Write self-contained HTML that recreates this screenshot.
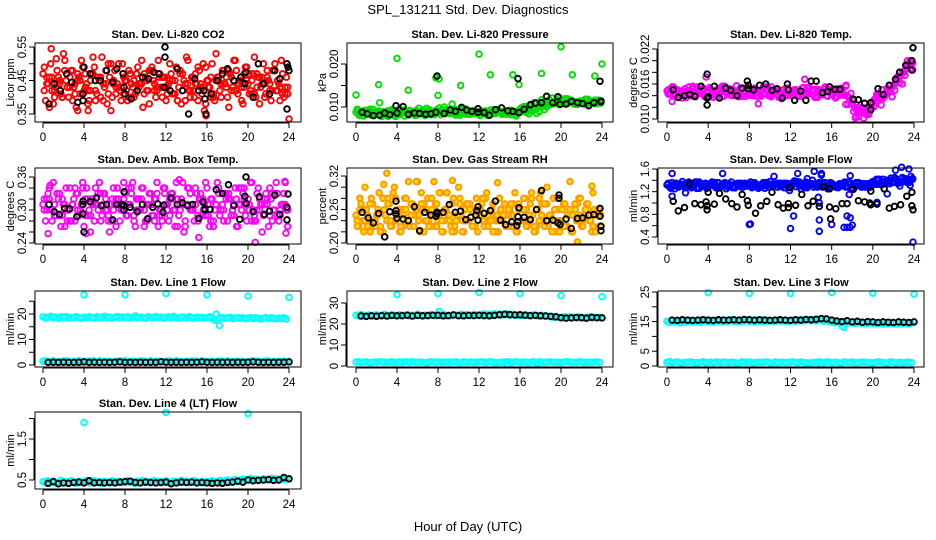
<!DOCTYPE html>
<html><head><meta charset="utf-8">
<style>
html,body{margin:0;padding:0;background:#fff;}
svg{display:block;font-family:"Liberation Sans",Arial,sans-serif;}
</style></head>
<body>
<svg id="chart" width="936" height="540" viewBox="0 0 936 540" xmlns="http://www.w3.org/2000/svg">
<rect x="0" y="0" width="936" height="540" fill="#fff"/>
<text x="468" y="14" font-size="13" text-anchor="middle">SPL_131211  Std. Dev. Diagnostics</text>
<text x="468" y="531" font-size="13" text-anchor="middle">Hour of Day (UTC)</text>
</svg>
<script>
// ---------- data ----------
const xTicks = [0,4,8,12,16,20,24];

const co2Main = [0.47,0.39,0.44,0.50,0.38,0.43,0.46,0.41,0.53,0.45,0.40,0.48,0.43,0.37,0.46,0.51,0.42,0.44,0.39,0.47,0.49,0.41,0.45,0.52,0.43,0.38,0.46,0.40,0.48,0.44,0.42,0.50,
0.45,0.39,0.47,0.43,0.41,0.49,0.44,0.37,0.46,0.42,0.48,0.45,0.40,0.51,0.43,0.46,0.39,0.44,0.47,0.41,0.49,0.43,0.38,0.45,0.52,0.42,0.46,0.40,0.44,0.48,0.41,0.36,
0.45,0.43,0.50,0.39,0.46,0.42,0.48,0.44,0.40,0.47,0.43,0.51,0.41,0.45,0.38,0.49,0.44,0.42,0.47,0.40,0.46,0.43,0.50,0.41,0.45,0.39,0.48,0.42,0.44,0.51,0.40,0.46];
const co2Extra = [0.42,0.46,0.40,0.44,0.48,0.43,0.41,0.45,0.47,0.42,0.39,0.46,0.44,0.50,0.41,0.43,0.45,0.40,0.47,0.44,0.42,0.48,0.43,0.46,0.41,0.45,0.39,0.47,0.44,0.42,0.49,0.43,0.45,0.40,0.46,0.44,0.48,0.42,0.45,0.43,0.47,0.41,0.46,0.44,0.42,0.48,0.43,0.41];
const co2Out = [[0.8,0.545],[3.4,0.36],[4.4,0.36],[15.9,0.345],[24.0,0.335],[1.3,0.515]];
const co2Black = [[0.6,0.38],[1.1,0.44],[1.7,0.42],[2.3,0.47],[2.8,0.445],[3.4,0.385],[3.9,0.39],[3.9,0.41],[4.0,0.49],[4.6,0.47],[5.1,0.45],[5.6,0.45],[6.2,0.48],[6.8,0.445],[7.2,0.485],[7.8,0.47],[7.9,0.43],[8.0,0.41],[8.6,0.395],[9.2,0.42],[9.7,0.46],[10.3,0.455],[10.8,0.475],[11.3,0.47],[11.8,0.43],[11.9,0.55],[11.9,0.52],[12.4,0.42],[13.1,0.485],[13.6,0.42],[14.2,0.35],[14.8,0.455],[15.2,0.42],[15.7,0.42],[15.8,0.395],[15.9,0.35],[16.4,0.41],[17.0,0.45],[17.5,0.47],[18.0,0.485],[18.6,0.45],[19.3,0.46],[19.7,0.44],[19.8,0.475],[20.5,0.40],[21.0,0.50],[21.5,0.44],[22.1,0.41],[22.6,0.48],[23.1,0.455],[23.8,0.50],[23.9,0.49],[24.0,0.48],[23.8,0.365]];

const presMain = [0.0088,0.0082,0.0090,0.0079,0.0086,0.0093,0.0081,0.0087,0.0084,0.0091,0.0078,0.0085,0.0089,0.0082,0.0094,0.0080,
0.0086,0.0083,0.0090,0.0079,0.0087,0.0092,0.0084,0.0081,0.0088,0.0085,0.0093,0.0080,0.0086,0.0089,0.0083,0.0091,
0.0087,0.0082,0.0090,0.0085,0.0088,0.0095,0.0084,0.0081,0.0089,0.0086,0.0092,0.0083,0.0087,0.0090,0.0085,0.0088,
0.0084,0.0091,0.0086,0.0082,0.0089,0.0093,0.0085,0.0087,0.0090,0.0083,0.0088,0.0086,0.0092,0.0084,0.0089,0.0087,
0.0091,0.0094,0.0090,0.0096,0.0093,0.0098,0.0095,0.0100,0.0104,0.0101,0.0107,0.0110,0.0106,0.0112,0.0109,0.0115,
0.0111,0.0108,0.0113,0.0110,0.0116,0.0107,0.0112,0.0109,0.0114,0.0111,0.0106,0.0113,0.0110,0.0115,0.0108,0.0112];
const presExtra = [0.0092,0.0080,0.0087,0.0095,0.0083,0.0089,0.0078,0.0091,0.0086,0.0093,0.0081,0.0088,0.0097,0.0084,0.0090,0.0082,0.0087,0.0094,0.0085,0.0089,0.0083,0.0096,0.0086,0.0091,0.0080,0.0088,0.0093,0.0085,0.0090,0.0087,0.0092,0.0084,0.0098,0.0101,0.0105,0.0110,0.0117,0.0113,0.0121,0.0108,0.0115,0.0119,0.0111,0.0106,0.0114,0.0118,0.0109,0.0116];
const presOut = [[0,0.0128],[2.2,0.0152],[2.3,0.0110],[4.0,0.0213],[5.1,0.0139],[7.8,0.0168],[8.1,0.0165],[8.0,0.0127],[10.2,0.0150],[12.0,0.0223],[13.1,0.0175],[15.3,0.0175],[15.9,0.0152],[18.1,0.0178],[20.0,0.0240],[21.1,0.0175],[23.3,0.0172],[24,0.0200]];
const presBlack = [[0.6,0.0088],[1.1,0.0084],[1.7,0.0080],[2.3,0.0081],[2.8,0.0086],[3.3,0.0082],[3.9,0.0103],[4.0,0.0086],[4.6,0.0101],[5.1,0.0083],[5.7,0.0086],[6.2,0.0085],[6.8,0.0083],[7.3,0.0084],[7.8,0.0088],[7.9,0.0172],[8.6,0.0085],[9.2,0.0093],[9.7,0.0090],[10.3,0.0099],[10.8,0.0093],[11.3,0.0090],[11.9,0.0088],[11.9,0.0096],[12.5,0.0087],[13.0,0.0081],[13.6,0.0094],[14.2,0.0098],[14.8,0.0091],[15.3,0.0090],[15.8,0.0166],[15.9,0.0087],[16.4,0.0095],[17.0,0.0105],[17.5,0.0109],[18.1,0.0110],[18.6,0.0125],[19.2,0.0110],[19.7,0.0124],[19.9,0.0106],[20.5,0.0107],[21.0,0.0113],[21.6,0.0110],[22.1,0.0108],[22.7,0.0103],[23.2,0.0110],[23.8,0.0160],[23.9,0.0112],[23.9,0.0114]];

const tempMain = [0.0148,0.0142,0.0155,0.0139,0.0150,0.0145,0.0136,0.0152,0.0147,0.0141,0.0156,0.0138,0.0149,0.0144,0.0153,0.0140,
0.0146,0.0151,0.0137,0.0148,0.0143,0.0154,0.0139,0.0147,0.0150,0.0142,0.0145,0.0157,0.0138,0.0149,0.0144,0.0152,
0.0141,0.0147,0.0153,0.0139,0.0146,0.0150,0.0143,0.0155,0.0140,0.0148,0.0145,0.0151,0.0137,0.0149,0.0144,0.0153,
0.0142,0.0147,0.0150,0.0139,0.0146,0.0154,0.0141,0.0148,0.0143,0.0151,0.0138,0.0147,0.0145,0.0152,0.0140,0.0148,
0.0144,0.0150,0.0139,0.0146,0.0153,0.0141,
0.0140,0.0132,0.0126,0.0120,0.0116,0.0112,0.0118,0.0110,0.0114,0.0121,
0.0128,0.0135,0.0131,0.0140,0.0137,0.0145,0.0150,0.0147,0.0156,0.0162,0.0168,0.0175,0.0180,0.0186,0.0192,0.0196];
const tempExtra = [0.0143,0.0152,0.0137,0.0148,0.0155,0.0140,0.0146,0.0151,0.0138,0.0149,0.0144,0.0156,0.0141,0.0147,0.0153,0.0139,0.0146,0.0150,0.0142,0.0155,0.0138,0.0148,0.0144,0.0151,0.0140,0.0147,0.0153,0.0143,0.0149,0.0137,0.0145,0.0152,0.0141,0.0148,0.0144,0.0125,0.0113,0.0104,0.0119,0.0108,0.0133,0.0142,0.0138,0.0152,0.0160,0.0172,0.0184,0.0200];
const tempOut = [[0.5,0.0130],[3.8,0.0172],[17.4,0.0158],[18.3,0.0102],[19.1,0.0101],[20.8,0.0124]];
const tempBlack = [[0.6,0.0150],[1.1,0.0137],[1.7,0.0140],[2.2,0.0142],[2.7,0.0139],[3.3,0.0156],[3.9,0.0177],[3.9,0.0124],[3.9,0.0136],[4.0,0.0138],[4.6,0.0156],[5.1,0.0136],[5.7,0.0153],[6.2,0.0149],[6.8,0.0140],[7.3,0.0153],[7.8,0.0165],[7.9,0.0152],[7.9,0.0158],[8.4,0.0150],[9.0,0.0158],[9.6,0.0160],[10.2,0.0149],[10.7,0.0152],[11.2,0.0136],[11.7,0.0160],[11.8,0.0150],[12.4,0.0132],[13.0,0.0148],[13.5,0.0132],[14.0,0.0165],[14.5,0.0165],[15.1,0.0145],[15.6,0.0147],[15.8,0.0155],[16.3,0.0151],[16.8,0.0151],[18.1,0.0134],[18.6,0.0133],[19.2,0.0127],[19.8,0.0116],[19.8,0.0128],[20.5,0.0152],[21.0,0.0142],[21.6,0.0158],[22.2,0.0168],[22.6,0.0180],[23.2,0.0192],[23.8,0.0200],[23.8,0.0184],[23.9,0.0222]];

const ambMain = [0.31,0.28,0.33,0.30,0.35,0.29,0.32,0.27,0.31,0.34,0.30,0.28,0.32,0.33,0.29,0.31,
0.27,0.34,0.30,0.32,0.28,0.31,0.35,0.29,0.33,0.30,0.26,0.32,0.31,0.34,0.28,0.30,
0.33,0.29,0.31,0.35,0.27,0.32,0.30,0.34,0.28,0.31,0.33,0.29,0.32,0.27,0.30,0.34,
0.31,0.28,0.33,0.30,0.35,0.29,0.32,0.26,0.31,0.34,0.30,0.28,0.33,0.32,0.29,0.31,
0.34,0.27,0.32,0.30,0.35,0.29,0.31,0.33,0.28,0.32,0.30,0.34,0.27,0.31,0.33,0.29,
0.32,0.35,0.30,0.28,0.34,0.31,0.29,0.33,0.27,0.32,0.30,0.35,0.28,0.31,0.33,0.30];
const ambExtra = [0.30,0.32,0.29,0.33,0.31,0.28,0.34,0.30,0.32,0.29,0.31,0.33,0.30,0.28,0.32,0.31,0.29,0.34,0.30,0.32,0.28,0.31,0.33,0.29,0.30,0.32,0.27,0.31,0.34,0.30,0.29,0.32,0.31,0.28,0.33,0.30,0.32,0.29,0.31,0.34,0.30,0.28,0.32,0.31,0.29,0.33,0.30,0.31];
const ambOut = [[0.5,0.257],[0.7,0.345],[4.2,0.257],[13.3,0.355],[15.2,0.250],[20.7,0.241],[23.6,0.352],[23.7,0.258]];
const ambBlack = [[0.6,0.310],[1.1,0.297],[1.6,0.292],[2.1,0.303],[2.6,0.302],[3.3,0.288],[3.9,0.316],[3.9,0.310],[3.9,0.293],[4.0,0.260],[4.6,0.315],[5.2,0.322],[5.7,0.308],[6.2,0.310],[6.8,0.282],[7.2,0.310],[7.7,0.310],[7.9,0.308],[7.9,0.333],[7.9,0.300],[8.5,0.305],[9.2,0.297],[9.7,0.310],[10.2,0.284],[10.7,0.305],[11.2,0.311],[11.7,0.296],[11.8,0.309],[12.5,0.322],[13.1,0.310],[13.6,0.313],[14.1,0.308],[14.6,0.310],[15.2,0.285],[15.6,0.315],[15.8,0.300],[15.8,0.302],[16.3,0.301],[16.9,0.337],[17.5,0.330],[18.1,0.346],[18.6,0.308],[19.2,0.283],[19.7,0.325],[19.8,0.312],[19.8,0.360],[20.5,0.297],[21.1,0.324],[21.6,0.292],[22.1,0.298],[22.6,0.327],[23.1,0.292],[23.8,0.305],[23.8,0.282],[23.9,0.329]];

const rhMain = [0.25,0.23,0.27,0.22,0.26,0.24,0.28,0.23,0.25,0.29,0.22,0.26,0.24,0.27,0.23,0.30,
0.25,0.22,0.26,0.28,0.24,0.23,0.27,0.25,0.31,0.22,0.26,0.24,0.28,0.23,0.25,0.27,
0.24,0.29,0.22,0.26,0.25,0.23,0.28,0.24,0.30,0.25,0.22,0.27,0.24,0.26,0.23,0.28,
0.25,0.27,0.23,0.29,0.24,0.26,0.22,0.25,0.28,0.24,0.27,0.23,0.26,0.25,0.29,0.22,
0.26,0.24,0.28,0.23,0.27,0.25,0.22,0.26,0.29,0.24,0.27,0.23,0.25,0.28,0.22,0.26,
0.24,0.27,0.23,0.25,0.22,0.26,0.24,0.28,0.23,0.25,0.27,0.24,0.22,0.26,0.25,0.23];
const rhExtra = [0.24,0.26,0.23,0.27,0.25,0.22,0.28,0.24,0.26,0.23,0.31,0.25,0.24,0.27,0.23,0.26,0.29,0.24,0.25,0.22,0.27,0.24,0.26,0.23,0.25,0.28,0.24,0.22,0.26,0.25,0.27,0.23,0.24,0.26,0.28,0.23,0.25,0.27,0.22,0.24,0.26,0.23,0.25,0.27,0.24,0.26,0.23,0.25];
const rhOut = [[3.0,0.325],[2.7,0.305],[7.6,0.310],[9.4,0.312],[13.8,0.308],[21.6,0.202],[23.0,0.302]];
const rhBlack = [[0.6,0.255],[1.2,0.245],[1.7,0.236],[2.2,0.253],[2.8,0.211],[3.3,0.256],[3.9,0.275],[3.9,0.258],[3.9,0.252],[4.0,0.244],[4.6,0.243],[5.1,0.240],[5.7,0.265],[6.2,0.222],[6.7,0.255],[7.3,0.250],[7.8,0.248],[7.9,0.252],[7.9,0.255],[8.5,0.255],[9.1,0.269],[9.7,0.255],[10.2,0.257],[10.7,0.242],[11.2,0.246],[11.7,0.250],[11.8,0.258],[11.9,0.265],[11.9,0.241],[12.5,0.253],[13.1,0.258],[13.6,0.275],[14.1,0.241],[14.6,0.233],[15.2,0.238],[15.7,0.231],[15.8,0.247],[15.8,0.238],[15.9,0.263],[16.4,0.246],[17.0,0.242],[17.6,0.260],[18.1,0.294],[18.6,0.240],[19.2,0.241],[19.7,0.236],[19.8,0.280],[19.8,0.286],[19.9,0.233],[20.5,0.243],[21.0,0.226],[21.6,0.244],[22.1,0.245],[22.7,0.250],[23.2,0.251],[23.8,0.262],[23.8,0.248],[23.9,0.230],[23.9,0.222]];

const flowMain = [1.32,1.28,1.36,1.25,1.33,1.30,1.38,1.27,1.34,1.31,1.29,1.37,1.26,1.33,1.30,1.35,
1.28,1.34,1.31,1.27,1.36,1.30,1.33,1.25,1.32,1.37,1.29,1.34,1.31,1.28,1.35,1.30,
1.33,1.27,1.36,1.31,1.29,1.34,1.26,1.32,1.38,1.30,1.33,1.28,1.35,1.31,1.27,1.34,
1.30,1.36,1.29,1.33,1.25,1.32,1.37,1.30,1.34,1.28,1.31,1.36,1.29,1.33,1.30,1.27,
1.35,1.31,1.28,1.34,1.30,1.37,1.29,1.33,1.26,1.32,1.36,1.30,1.34,1.28,1.31,1.35,
1.38,1.33,1.40,1.36,1.42,1.35,1.39,1.44,1.37,1.41,1.35,1.43,1.38,1.40,1.36,1.42];
const flowExtra = [1.35,1.30,1.28,1.33,1.37,1.31,1.26,1.34,1.30,1.36,1.29,1.33,1.31,1.27,1.35,1.32,1.30,1.34,1.28,1.36,1.31,1.33,1.29,1.35,1.30,1.38,1.32,1.27,1.34,1.31,1.36,1.29,1.33,1.30,1.35,1.28,1.32,1.36,1.30,1.34,1.38,1.42,1.36,1.40,1.45,1.38,1.43,1.40];
const flowOut = [[0.5,1.52],[0.5,1.12],[1.8,1.18],[5.4,1.52],[8.0,0.62],[8.1,0.63],[10.4,1.47],[11.9,1.22],[12.0,0.55],[12.3,0.77],[12.7,1.52],[14.3,1.56],[14.7,1.10],[14.8,1.00],[14.8,0.70],[14.8,0.50],[15.0,1.49],[15.0,1.52],[16.0,0.62],[17.2,0.57],[17.5,0.57],[17.5,0.77],[17.8,0.74],[17.8,0.57],[18.0,0.61],[17.8,1.48],[17.7,1.15],[20.4,1.01],[21.4,1.16],[22.2,1.58],[22.8,1.63],[23.5,1.60],[23.7,1.47],[23.9,0.31]];
const flowBlack = [[0.6,1.03],[1.1,0.86],[1.7,0.92],[2.2,1.34],[2.7,0.99],[3.3,0.97],[3.8,1.02],[3.9,0.88],[3.9,0.95],[4.0,1.19],[4.6,0.98],[5.1,1.17],[5.7,1.07],[6.3,0.99],[6.8,0.93],[7.3,1.15],[7.8,1.04],[7.9,0.96],[8.6,0.82],[9.1,0.95],[9.7,1.03],[10.2,1.19],[10.8,0.97],[11.3,0.91],[11.8,0.99],[11.8,0.92],[11.9,1.27],[12.5,0.96],[13.1,1.15],[13.7,0.95],[14.2,1.03],[14.8,0.94],[15.2,1.29],[15.8,1.25],[15.8,0.93],[15.9,0.72],[16.4,0.90],[17.0,0.99],[17.5,0.99],[18.1,1.24],[18.6,1.04],[19.2,1.02],[19.7,1.00],[19.8,0.97],[19.8,1.21],[20.4,0.98],[21.1,1.25],[21.6,0.91],[22.1,0.94],[22.7,0.97],[23.3,1.12],[23.8,1.19],[23.8,0.95],[23.9,0.88]];

const line1Main = [18.9,18.4,18.7,19.1,18.5,18.8,18.3,18.9,18.6,19.0,18.4,18.7,18.5,18.9,18.6,18.3,
18.8,18.5,19.0,18.6,18.4,18.9,18.7,18.5,19.1,18.6,18.8,18.4,18.7,19.0,18.5,18.8,
18.6,18.9,18.4,18.7,19.2,18.5,18.8,18.6,18.3,18.9,18.7,18.5,19.0,18.6,18.8,18.4,
18.7,18.9,18.5,19.1,18.6,18.4,18.8,18.7,18.5,18.9,18.6,18.3,18.8,18.5,18.7,18.4,
18.6,18.9,18.2,17.5,18.0,18.4,18.6,18.3,18.5,18.7,18.2,18.4,18.6,18.3,18.5,18.1,
18.4,18.6,18.2,18.5,18.3,18.0,18.4,18.6,18.2,18.5,18.3,18.1,18.4,18.2,18.5,18.0];
const line1Low = [1.5,1.3,1.6,1.2,1.4,1.5,1.3,1.7,1.4,1.2,1.5,1.6,1.3,1.4,1.2,1.5,1.6,1.3,1.4,1.5,1.2,1.6,1.4,1.3,1.5,1.4,1.6,1.2,1.3,1.5,1.4,1.6,1.3,1.5,1.2,1.4,1.6,1.3,1.5,1.4,1.2,1.6,1.4,1.3,1.5,1.4,1.3,1.5];
const line1Out = [[4,27.5],[8,27.5],[12,28],[16,27.5],[17.2,15.5],[16.9,20],[20,27],[24,26.5]];
const line1Black = [1.0,1.1,1.0,1.1,1.0,1.0,1.1,1.2,1.0,1.1,1.0,1.1,1.0,1.1,1.2,1.0,1.1,1.0,1.1,1.0,1.1,1.0,1.3,1.1,1.0,1.1,1.0,1.1,1.0,1.1,1.2,1.1,1.0,1.1,1.0,1.1,1.0,1.1,1.0,1.1,1.2,1.1,1.0,1.1,1.0,1.1,1.1,1.2];

const line2Main = [24.2,23.8,24.5,24.0,23.7,24.3,24.1,23.9,24.4,24.0,23.8,24.6,24.1,23.9,24.3,24.0,
24.2,24.5,23.9,24.1,24.4,23.8,24.2,24.0,24.6,24.1,23.9,24.3,24.0,24.5,24.2,23.8,
24.4,24.1,24.6,23.9,24.2,24.0,24.5,24.3,23.9,24.7,24.1,24.4,24.0,24.2,24.6,24.3,
24.1,24.5,24.8,24.3,24.6,24.2,24.9,24.4,24.7,24.3,24.5,24.8,24.2,24.6,24.4,24.1,
24.3,24.0,24.5,24.2,23.9,24.3,24.1,23.8,24.2,23.9,24.0,23.7,23.5,23.2,23.6,23.3,
23.0,23.4,23.1,23.5,22.9,23.3,23.0,23.4,23.2,22.8,23.1,23.4,22.9,23.2,23.0,23.3];
const line2Low = [1.9,1.7,2.0,1.6,1.8,1.9,1.7,2.1,1.8,1.6,1.9,2.0,1.7,1.8,1.6,1.9,2.0,1.7,1.8,1.9,1.6,2.0,1.8,1.7,1.9,1.8,2.0,1.6,1.7,1.9,1.8,2.0,1.7,1.9,1.6,1.8,2.0,1.7,1.9,1.8,1.6,2.0,1.8,1.7,1.9,1.8,1.7,1.9];
const line2Out = [[4,34],[8,34.5],[12,35],[16,34.5],[20,33.5],[24,33],[8.1,26],[14.8,0.6],[17.7,0.8]];
const line2Black = [23.8,23.6,23.9,23.7,24.0,23.8,24.1,23.9,24.0,24.2,23.8,24.1,23.9,24.0,24.2,24.1,23.9,24.0,24.3,24.0,23.9,24.1,24.0,24.2,24.0,23.9,24.1,24.4,24.6,24.5,24.3,24.4,24.2,24.0,24.1,23.9,23.8,23.6,23.4,23.0,22.8,22.9,23.1,23.0,22.8,23.2,23.0,22.9];

const line3Main = [15.1,14.7,15.3,14.9,15.0,14.6,15.2,14.8,15.1,15.4,14.9,15.0,15.3,14.8,15.1,15.5,
15.0,15.2,14.8,15.3,15.1,14.9,15.4,15.0,15.2,15.6,15.1,14.9,15.3,15.0,15.2,15.5,
15.1,15.3,14.9,15.4,15.2,15.0,15.6,15.1,15.3,15.0,15.5,15.2,15.4,15.1,15.3,15.0,
15.2,15.5,15.1,15.3,15.6,15.2,15.4,15.7,15.3,15.5,15.2,15.6,15.4,15.1,15.3,15.0,
14.8,14.6,15.0,14.7,13.5,14.9,14.5,14.8,14.6,14.4,14.7,14.5,14.3,14.6,14.4,14.7,
14.5,14.3,14.6,14.4,14.2,14.5,14.3,14.6,14.4,14.2,14.5,14.3,14.6,14.4,14.2,14.5];
const line3Low = [1.3,1.1,1.4,1.0,1.2,1.3,1.1,1.5,1.2,1.0,1.3,1.4,1.1,1.2,1.0,1.3,1.4,1.1,1.2,1.3,1.0,1.4,1.2,1.1,1.3,1.2,1.4,1.0,1.1,1.3,1.2,1.4,1.1,1.3,1.0,1.2,1.4,1.1,1.3,1.2,1.0,1.4,1.2,1.1,1.3,1.2,1.1,1.3];
const line3Out = [[4,24.8],[8,24.5],[12,24.5],[16,24.8],[17.2,13.0],[20,24.6],[24,24.3],[15,0.3]];
const line3Black = [15.5,15.4,15.6,15.5,15.4,15.5,15.6,15.5,15.4,15.6,15.5,15.5,15.6,15.5,15.7,15.6,15.5,15.6,15.5,15.4,15.5,15.6,15.5,15.4,15.6,15.5,15.7,15.6,15.8,16.0,15.9,15.5,15.2,15.0,15.3,14.9,15.1,14.8,15.0,14.9,14.7,14.9,14.8,14.7,14.9,14.8,14.7,14.9];

const line4Main = [0.46,0.43,0.48,0.44,0.47,0.42,0.45,0.49,0.44,0.46,0.43,0.48,0.45,0.42,0.47,0.44,
0.46,0.49,0.43,0.45,0.48,0.44,0.46,0.42,0.47,0.45,0.43,0.48,0.46,0.44,0.47,0.43,
0.45,0.48,0.44,0.46,0.42,0.47,0.45,0.49,0.44,0.46,0.43,0.48,0.45,0.47,0.44,0.46,
0.48,0.45,0.43,0.47,0.46,0.44,0.49,0.45,0.47,0.43,0.46,0.48,0.44,0.45,0.47,0.43,
0.46,0.44,0.48,0.45,0.47,0.49,0.46,0.48,0.50,0.47,0.49,0.51,0.48,0.50,0.52,0.49,
0.51,0.53,0.50,0.52,0.49,0.51,0.53,0.50,0.52,0.54,0.51,0.53,0.50,0.52,0.51,0.53];
const line4Out = [[4,1.9],[12,2.15],[20,2.12]];
const line4Black = [0.42,0.46,0.41,0.43,0.42,0.44,0.45,0.43,0.48,0.43,0.44,0.43,0.44,0.43,0.45,0.46,0.47,0.44,0.43,0.45,0.44,0.43,0.44,0.45,0.41,0.43,0.45,0.44,0.45,0.43,0.44,0.43,0.42,0.43,0.42,0.44,0.45,0.47,0.45,0.50,0.48,0.49,0.50,0.51,0.49,0.50,0.56,0.53];

// y ticks and tick labels
const co2Ticks = [0.35,0.40,0.45,0.50,0.55];   const co2Labels = ["0.35","","0.45","","0.55"];
const presTicks = [0.010,0.015,0.020];         const presLabels = ["0.010","","0.020"];
const tempTicks = [0.010,0.012,0.014,0.016,0.018,0.020,0.022]; const tempLabels = ["0.010","","","0.016","","","0.022"];
const ambTicks = [0.24,0.26,0.28,0.30,0.32,0.34,0.36]; const ambLabels = ["0.24","","","0.30","","","0.36"];
const rhTicks = [0.20,0.22,0.24,0.26,0.28,0.30,0.32]; const rhLabels = ["0.20","","","0.26","","","0.32"];
const flowTicks = [0.4,0.6,0.8,1.0,1.2,1.4,1.6]; const flowLabels = ["0.4","","0.8","","1.2","","1.6"];
const line1Ticks = [0,5,10,15,20,25]; const line1Labels = ["0","","10","","20",""];
const line2Ticks = [0,10,20,30]; const line2Labels = ["0","10","20","30"];
const line3Ticks = [0,5,10,15,20,25]; const line3Labels = ["0","5","","15","","25"];
const line4Ticks = [0.5,1.0,1.5,2.0]; const line4Labels = ["0.5","","1.5",""];

// ---------- layout ----------
const NS = "http://www.w3.org/2000/svg";
const svg = document.getElementById('chart');
const cols = [{bx0:35,bx1:301,x0:43,x24:289},{bx0:347,bx1:613,x0:356,x24:602},{bx0:658,bx1:924,x0:667,x24:914}];
const rows = [{by0:43,by1:122},{by0:168,by1:244},{by0:291,by1:367},{by0:412,by1:489}];

function mk(tag, attrs, parent){
  const e = document.createElementNS(NS, tag);
  for (const k in attrs) e.setAttribute(k, attrs[k]);
  parent.appendChild(e);
  return e;
}

function dot(g, px, py, stroke, fill, name){
  const c = mk('circle', {cx:px.toFixed(1), cy:py.toFixed(1), r:2.8, fill:fill, stroke:stroke, 'stroke-width':1.9}, g);
  
  
}

function panel(p){
  const col = cols[p.col], row = rows[p.row];
  const g = mk('g', {}, svg);
  
  
  const xs = h => col.x0 + (h/24)*(col.x24-col.x0);
  const ys = v => p.ref[0][1] + (v-p.ref[0][0])*(p.ref[1][1]-p.ref[0][1])/(p.ref[1][0]-p.ref[0][0]);
  const cx = (col.bx0+col.bx1)/2;
  const t = mk('text', {x:cx, y:row.by0-5, 'font-size':11, 'font-weight':'bold', 'text-anchor':'middle'}, g);
  t.textContent = p.title;
  
  
  const yt = mk('text', {x:col.bx0-21, y:(row.by0+row.by1)/2, 'font-size':11, 'text-anchor':'middle', transform:`rotate(-90 ${col.bx0-21} ${(row.by0+row.by1)/2})`}, g);
  yt.textContent = p.ylab;
  
  
  const pts = mk('g', {}, g);
  
  
  const f = p.fill || 'none';
  if (p.main) {
    const n = p.main.length;
    p.main.forEach((v,i)=>dot(pts, xs(i*24/n), ys(v), p.color, f, 'main-point'));
    if (p.dense) p.main.forEach((v,i)=>{
      const j = (i+37)%n, k = Math.min(n-1, Math.max(0, i + ((i%2)?1:-1)));
      const val = (Math.abs(p.main[j]-p.main[i]) < (p.spread||1e9)) ? p.main[j] : p.main[k];
      dot(pts, xs(i*24/n+0.125), ys(val), p.color, f, 'main-point');
    });
  }
  if (p.extra) {
    const m = p.extra.length;
    p.extra.forEach((v,i)=>dot(pts, xs(0.12+i*0.5), ys(v), p.color, f, 'main-point'));
    if (p.dense) p.extra.forEach((v,i)=>{
      const k = Math.min(m-1, i ^ 1);
      dot(pts, xs(0.37+i*0.5), ys(p.extra[k]), p.color, f, 'main-point');
    });
  }
  if (p.low) p.low.forEach((v,i)=>{
    dot(pts, xs(i*0.5), ys(v), p.color, f, 'low-point');
    dot(pts, xs(i*0.5+0.25), ys(p.low[(i+7)%p.low.length]), p.color, f, 'low-point');
  });
  if (p.out) p.out.forEach(d=>dot(pts, xs(d[0]), ys(d[1]), p.color, f, 'outlier-point'));
  if (p.blackPairs) p.blackPairs.forEach(d=>dot(pts, xs(d[0]), ys(d[1]), '#000', 'none', 'hourly-point'));
  if (p.blackSeq) p.blackSeq.forEach((v,i)=>dot(pts, xs(0.5+i*0.5), ys(v), '#000', 'none', 'hourly-point'));
  const b = mk('rect', {x:col.bx0, y:row.by0, width:col.bx1-col.bx0, height:row.by1-row.by0, fill:'none', stroke:'#000', 'stroke-width':1}, g);
  
  
  const xa = mk('g', {}, g);
  
  
  mk('line', {x1:xs(0), x2:xs(24), y1:row.by1+1, y2:row.by1+1, stroke:'#000'}, xa);
  xTicks.forEach(h=>{
    mk('line', {x1:xs(h), x2:xs(h), y1:row.by1+1, y2:row.by1+6, stroke:'#000'}, xa);
    const tl = mk('text', {x:xs(h), y:row.by1+19, 'font-size':11.5, 'text-anchor':'middle'}, xa);
    tl.textContent = String(h);
    
    
  });
  const ya = mk('g', {}, g);
  
  
  const tk = p.ticks;
  mk('line', {x1:col.bx0-1, x2:col.bx0-1, y1:ys(tk[0]), y2:ys(tk[tk.length-1]), stroke:'#000'}, ya);
  tk.forEach((v,i)=>{
    const y = ys(v);
    mk('line', {x1:col.bx0-1, x2:col.bx0-6, y1:y, y2:y, stroke:'#000'}, ya);
    if (p.labels[i]) {
      const lx = col.bx0-9;
      const tl = mk('text', {x:lx, y:y, 'font-size':11.5, 'text-anchor':'middle', transform:`rotate(-90 ${lx} ${y})`}, ya);
      tl.textContent = p.labels[i];
      
      
    }
  });
}

panel({name:'panel-co2', col:0,row:0,title:'Stan. Dev. Li-820 CO2',ylab:'Licor ppm',ref:[[0.35,114],[0.55,47]],ticks:co2Ticks,labels:co2Labels,main:co2Main,extra:co2Extra,out:co2Out,blackPairs:co2Black,color:'#ff0000',dense:true});
panel({name:'panel-pressure', col:1,row:0,title:'Stan. Dev. Li-820 Pressure',ylab:'kPa',ref:[[0.010,107],[0.020,64]],ticks:presTicks,labels:presLabels,main:presMain,extra:presExtra,out:presOut,blackPairs:presBlack,color:'#00dd00',dense:true,spread:0.0012});
panel({name:'panel-li820-temp', col:2,row:0,title:'Stan. Dev. Li-820 Temp.',ylab:'degrees C',ref:[[0.010,119],[0.022,49]],ticks:tempTicks,labels:tempLabels,main:tempMain,extra:tempExtra,out:tempOut,blackPairs:tempBlack,color:'#ff00ff',dense:true,spread:0.0015});
panel({name:'panel-amb-box-temp', col:0,row:1,title:'Stan. Dev. Amb. Box Temp.',ylab:'degrees C',ref:[[0.24,243],[0.36,177]],ticks:ambTicks,labels:ambLabels,main:ambMain,extra:ambExtra,out:ambOut,blackPairs:ambBlack,color:'#ff00ff',dense:true});
panel({name:'panel-gas-stream-rh', col:1,row:1,title:'Stan. Dev. Gas Stream RH',ylab:'percent',ref:[[0.20,243],[0.32,176]],ticks:rhTicks,labels:rhLabels,main:rhMain,extra:rhExtra,out:rhOut,blackPairs:rhBlack,color:'#ff9900',fill:'#ffe000',dense:true});
panel({name:'panel-sample-flow', col:2,row:1,title:'Stan. Dev. Sample Flow',ylab:'ml/min',ref:[[0.4,237],[1.6,169]],ticks:flowTicks,labels:flowLabels,main:flowMain,extra:flowExtra,out:flowOut,blackPairs:flowBlack,color:'#0000ff',dense:true,spread:0.06});
panel({name:'panel-line1-flow', col:0,row:2,title:'Stan. Dev. Line 1 Flow',ylab:'ml/min',ref:[[0,365],[20,314]],ticks:line1Ticks,labels:line1Labels,main:line1Main,low:line1Low,out:line1Out,blackSeq:line1Black,color:'#00ffff'});
panel({name:'panel-line2-flow', col:1,row:2,title:'Stan. Dev. Line 2 Flow',ylab:'ml/min',ref:[[0,366],[30,303]],ticks:line2Ticks,labels:line2Labels,main:line2Main,low:line2Low,out:line2Out,blackSeq:line2Black,color:'#00ffff'});
panel({name:'panel-line3-flow', col:2,row:2,title:'Stan. Dev. Line 3 Flow',ylab:'ml/min',ref:[[0,366],[25,292]],ticks:line3Ticks,labels:line3Labels,main:line3Main,low:line3Low,out:line3Out,blackSeq:line3Black,color:'#00ffff'});
panel({name:'panel-line4-flow', col:0,row:3,title:'Stan. Dev. Line 4 (LT) Flow',ylab:'ml/min',ref:[[0.5,480],[1.5,439]],ticks:line4Ticks,labels:line4Labels,main:line4Main,out:line4Out,blackSeq:line4Black,color:'#00ffff'});
</script>
</body></html>
